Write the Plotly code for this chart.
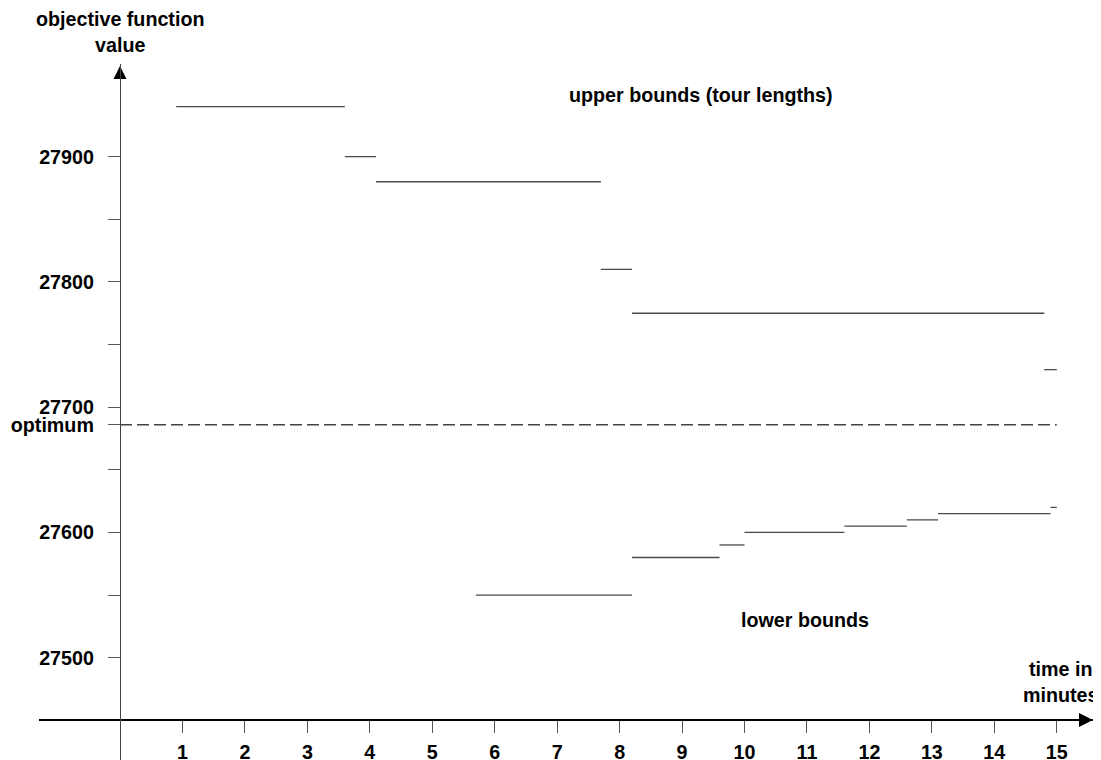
import plotly.graph_objects as go

# ---- data ----
ub_start = [0.9, 3.6, 4.1, 7.7, 8.2, 14.8]
ub_end = [3.6, 4.1, 7.7, 8.2, 14.8, 15.0]
ub_value = [27940, 27900, 27880, 27810, 27775, 27730]

lb_start = [5.7, 8.2, 9.6, 10.0, 11.6, 12.6, 13.1, 14.9]
lb_end = [8.2, 9.6, 10.0, 11.6, 12.6, 13.1, 14.9, 15.0]
lb_value = [27550, 27580, 27590, 27600, 27605, 27610, 27615, 27620]

optimum = 27686
opt_span = [0, 15]

x_ticks = list(range(1, 16))
x_labels = [str(v) for v in x_ticks]
y_ticks = [27500, 27550, 27600, 27650, 27686, 27700, 27750, 27800, 27850, 27900]
y_labels = ["27500", "", "27600", "", "optimum", "27700", "", "27800", "", "27900"]

# ---- layout geometry (page has an 8px body margin) ----
OFF = 8
W, H = 1101 - OFF, 760 - OFF
FONT = "Liberation Sans, Arial, Helvetica, sans-serif"
FS = 19.7
SEG = "#4a4a4a"

PX0, PXU = 120, 62.45        # page x of x=0, pixels per minute
PY900, PYU = 156.7, 1.2525   # page y of 27900, pixels per unit


def xv(px):
    return (px - PX0) / PXU


def yv(py):
    return 27900 - (py - PY900) / PYU


def xp(px):
    return (px - OFF) / W


def yp(py):
    return 1 - (py - OFF) / H


def segs(starts, ends, vals):
    xs, ys = [], []
    for a, b, v in zip(starts, ends, vals):
        xs += [a, b, None]
        ys += [v, v, None]
    return xs, ys


fig = go.Figure()
ux, uy = segs(ub_start, ub_end, ub_value)
lx, ly = segs(lb_start, lb_end, lb_value)
fig.add_trace(go.Scatter(x=ux, y=uy, mode="lines", line=dict(color=SEG, width=1.3),
                         name="upper bounds", showlegend=False, hoverinfo="skip"))
fig.add_trace(go.Scatter(x=lx, y=ly, mode="lines", line=dict(color=SEG, width=1.3),
                         name="lower bounds", showlegend=False, hoverinfo="skip"))
fig.add_trace(go.Scatter(x=opt_span, y=[optimum, optimum], mode="lines",
                         line=dict(color="#444444", width=1.3, dash="12px,5px"),
                         name="optimum", showlegend=False, hoverinfo="skip"))

# axis arrowheads (kept inside the axis ranges)
fig.add_trace(go.Scatter(x=[0], y=[yv(66)], mode="markers",
                         marker=dict(symbol="arrow-up", size=13, color="black"),
                         cliponaxis=False, showlegend=False, hoverinfo="skip"))
fig.add_trace(go.Scatter(x=[xv(1093)], y=[yv(720)], mode="markers",
                         marker=dict(symbol="arrow-right", size=14, color="black"),
                         cliponaxis=False, showlegend=False, hoverinfo="skip"))

fig.update_layout(
    width=W, height=H,
    margin=dict(l=0, r=0, t=0, b=0, autoexpand=False),
    paper_bgcolor="white", plot_bgcolor="white",
    font=dict(family=FONT, size=FS, color="black"),
    xaxis=dict(
        domain=[xp(39), xp(1095)], range=[xv(39), xv(1095)],
        anchor="free", position=yp(720), automargin=False,
        showgrid=False, zeroline=False,
        showline=True, linecolor="black", linewidth=1.5,
        ticks="outside", ticklen=12, tickwidth=1.2, tickcolor="#555555",
        tickvals=x_ticks, ticktext=x_labels,
        tickfont=dict(family=FONT, size=FS, weight="bold", color="black"),
        ticklabelstandoff=3,
    ),
    yaxis=dict(
        domain=[0, yp(64)], range=[yv(760), yv(64)],
        anchor="free", position=xp(120), automargin=False,
        showgrid=False, zeroline=False,
        showline=True, linecolor="#444444", linewidth=1.3,
        ticks="outside", ticklen=12, tickwidth=1.2, tickcolor="#555555",
        tickvals=y_ticks, ticktext=y_labels,
        tickfont=dict(family=FONT, size=FS, weight="bold", color="black"),
        ticklabelstandoff=10,
    ),
)

bold = dict(family=FONT, size=FS, weight="bold", color="black")
fig.add_annotation(text="objective function<br>value", xref="paper", yref="paper",
                   x=xp(120), y=yp(32), xanchor="center", yanchor="middle",
                   showarrow=False, font=bold)
fig.add_annotation(text="upper bounds (tour lengths)", xref="x", yref="y",
                   x=xv(701), y=yv(95), xanchor="center", yanchor="middle",
                   showarrow=False, font=bold)
fig.add_annotation(text="lower bounds", xref="x", yref="y",
                   x=xv(805), y=yv(620), xanchor="center", yanchor="middle",
                   showarrow=False, font=bold)
fig.add_annotation(text="time in<br>minutes", xref="paper", yref="paper",
                   x=xp(1061), y=yp(682), xanchor="center", yanchor="middle",
                   showarrow=False, font=bold)

fig.write_html("out.html")
